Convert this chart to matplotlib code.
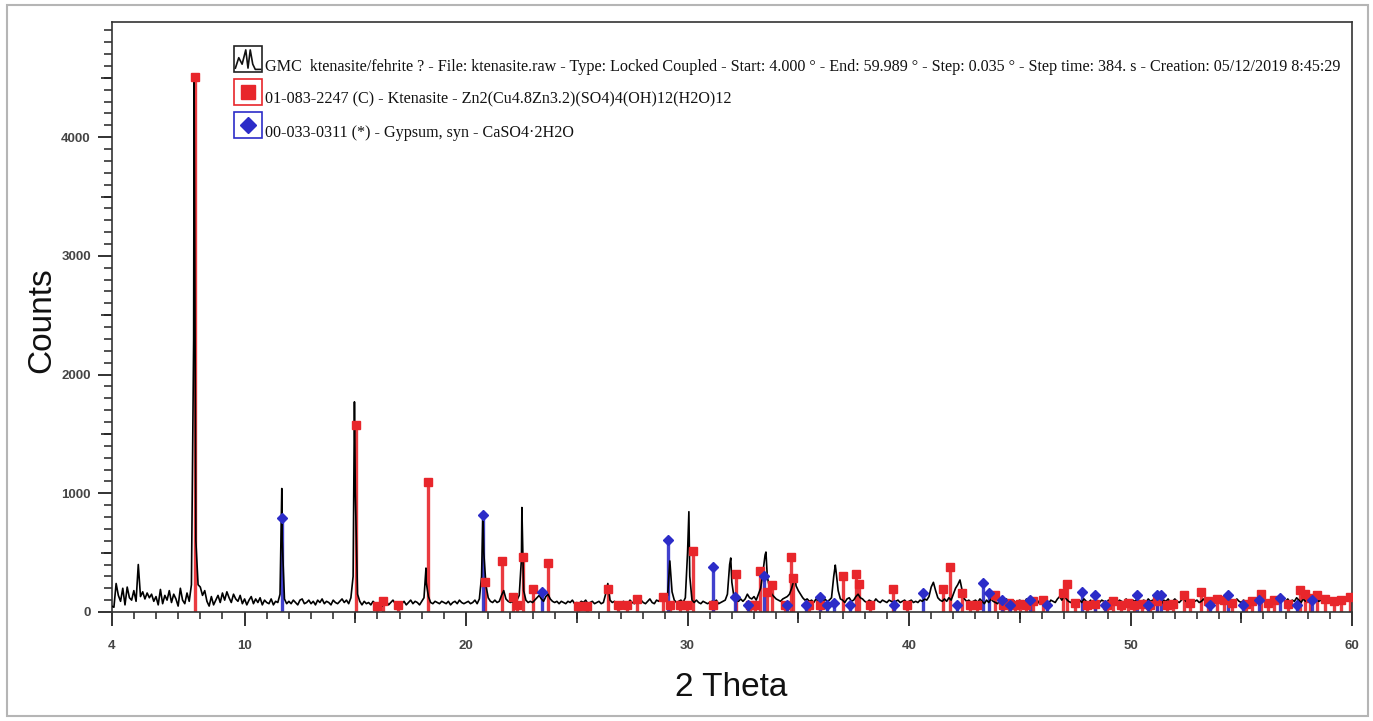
import numpy as np
import matplotlib
matplotlib.use("Agg")
import matplotlib.pyplot as plt
from matplotlib.patches import Rectangle
from matplotlib.lines import Line2D
from matplotlib.ticker import FixedLocator

# ---------------- data ----------------
# measured pattern, background read at 0.1 deg steps, rows = one degree
scan_start, scan_step = 4.0, 0.1
pattern_counts = [
    50, 40, 240, 140, 90, 200, 60, 210, 120, 100,        # 4
    180, 90, 400, 130, 170, 110, 160, 120, 150, 90,      # 5
    130, 60, 190, 70, 140, 100, 180, 80, 150, 110,       # 6
    50, 200, 100, 70, 160, 90, 230, 2300, 600, 230,      # 7
    210, 140, 180, 90, 50, 130, 60, 100, 140, 80,        # 8
    160, 100, 170, 120, 80, 150, 110, 90, 140, 70,       # 9
    110, 60, 100, 130, 70, 110, 80, 120, 60, 100,        # 10
    80, 70, 110, 60, 90, 80, 150, 600, 110, 70,          # 11
    90, 70, 100, 80, 60, 100, 110, 70, 80, 100,          # 12
    70, 90, 60, 100, 80, 110, 70, 90, 80, 60,            # 13
    100, 80, 70, 90, 110, 80, 100, 70, 120, 300,         # 14
    1000, 150, 90, 60, 90, 70, 80, 60, 90, 70,           # 15
    60, 80, 50, 70, 90, 60, 80, 100, 70, 60,             # 16
    80, 70, 90, 60, 80, 100, 70, 90, 80, 60,             # 17
    90, 120, 250, 130, 80, 70, 90, 80, 70, 90,           # 18
    80, 70, 90, 60, 80, 90, 70, 100, 80, 70,             # 19
    80, 90, 70, 80, 100, 70, 110, 300, 500, 220,         # 20
    120, 90, 80, 100, 80, 90, 140, 180, 110, 90,         # 21
    80, 90, 70, 100, 140, 450, 180, 100, 80, 90,         # 22
    80, 100, 120, 140, 110, 90, 130, 150, 110, 90,       # 23
    80, 90, 70, 90, 80, 70, 90, 80, 100, 70,             # 24
    80, 70, 90, 80, 100, 70, 80, 90, 70, 80,             # 25
    90, 70, 80, 150, 240, 100, 80, 90, 70, 80,           # 26
    70, 90, 80, 70, 100, 80, 70, 90, 80, 100,            # 27
    80, 70, 90, 110, 80, 70, 100, 90, 120, 100,          # 28
    110, 140, 430, 170, 100, 80, 90, 100, 80, 120,       # 29
    500, 300, 100, 80, 100, 80, 70, 90, 80, 70,          # 30
    80, 90, 80, 100, 70, 80, 90, 100, 150, 400,          # 31
    250, 120, 100, 90, 110, 90, 110, 150, 120, 110,      # 32
    130, 100, 150, 200, 330, 480, 300, 200, 150, 130,    # 33
    110, 100, 90, 110, 120, 130, 150, 200, 270, 220,     # 34
    180, 150, 120, 100, 110, 90, 100, 80, 110, 90,       # 35
    100, 80, 110, 90, 100, 120, 300, 350, 180, 110,      # 36
    100, 80, 110, 120, 90, 100, 130, 150, 120, 110,      # 37
    90, 80, 100, 90, 80, 110, 90, 80, 100, 90,           # 38
    80, 100, 90, 80, 90, 100, 80, 90, 100, 80,           # 39
    90, 100, 80, 90, 80, 100, 90, 110, 100, 130,         # 40
    210, 250, 180, 120, 100, 90, 110, 90, 120, 100,      # 41
    150, 200, 230, 270, 180, 110, 90, 100, 80, 90,       # 42
    100, 80, 110, 90, 70, 100, 80, 110, 90, 80,          # 43
    70, 100, 90, 80, 110, 70, 90, 100, 80, 90,           # 44
    100, 80, 70, 110, 90, 80, 100, 90, 70, 100,          # 45
    80, 110, 90, 70, 100, 90, 80, 110, 130, 100,         # 46
    140, 110, 90, 80, 100, 90, 70, 100, 80, 110,         # 47
    90, 80, 100, 70, 110, 90, 80, 100, 90, 70,           # 48
    100, 90, 70, 110, 80, 100, 90, 80, 110, 90,          # 49
    80, 100, 90, 110, 70, 90, 100, 80, 110, 90,          # 50
    100, 80, 110, 90, 70, 100, 90, 110, 80, 90,          # 51
    110, 90, 80, 100, 120, 90, 80, 100, 70, 90,          # 52
    100, 80, 90, 110, 80, 100, 90, 70, 100, 80,          # 53
    90, 110, 80, 100, 90, 70, 100, 80, 110, 90,          # 54
    80, 100, 90, 70, 110, 90, 80, 100, 90, 110,          # 55
    90, 80, 100, 90, 110, 80, 100, 90, 130, 100,         # 56
    90, 110, 80, 100, 90, 120, 100, 80, 110, 90,         # 57
    100, 120, 90, 80, 110, 90, 100, 80, 110, 90,         # 58
    80, 100, 90, 110, 80, 100, 120, 90, 110, 100,        # 59
    110,                                                 # 60
]
# peak maxima of the measured pattern
apex_theta = [7.72, 11.68, 14.96, 18.19, 20.76, 22.52, 30.06, 31.95, 33.54, 34.86, 36.67]
apex_counts = [4500, 1040, 1770, 370, 840, 880, 845, 455, 505, 285, 395]

# 01-083-2247 Ktenasite reference lines
ktenasite_theta = [7.75, 15.02, 15.97, 16.26, 16.93, 18.29, 20.86, 21.63, 22.13, 22.30,
                   22.56, 23.03, 23.72, 25.06, 25.47, 26.42, 26.87, 27.27, 27.73, 28.90,
                   29.20, 29.67, 29.98, 30.25, 31.17, 32.20, 32.83, 33.05, 33.28, 33.57,
                   33.80, 34.40, 34.68, 34.77, 35.50, 36.00, 37.00, 37.60, 37.75, 38.25,
                   39.28, 39.90, 41.53, 41.86, 42.40, 42.77, 43.07, 43.90, 44.25, 44.50,
                   44.80, 45.00, 45.30, 45.60, 46.06, 46.97, 47.14, 47.50, 48.05, 48.40,
                   48.95, 49.20, 49.55, 49.90, 50.15, 50.50, 50.90, 51.20, 51.66, 51.90,
                   52.40, 52.70, 53.16, 53.50, 53.90, 54.20, 54.60, 55.20, 55.50, 55.87,
                   56.20, 56.50, 57.10, 57.67, 57.90, 58.10, 58.40, 58.80, 59.20, 59.50,
                   59.90]
ktenasite_counts = [4510, 1575, 50, 95, 60, 1095, 253, 430, 125, 60,
                    463, 190, 413, 50, 50, 194, 60, 60, 110, 125,
                    60, 60, 60, 513, 60, 320, 60, 60, 345, 170,
                    227, 60, 463, 290, 60, 60, 305, 320, 235, 60,
                    193, 60, 193, 380, 160, 60, 60, 143, 60, 80,
                    60, 70, 60, 90, 100, 160, 235, 80, 60, 70,
                    60, 90, 60, 80, 60, 70, 60, 90, 60, 70,
                    143, 80, 168, 90, 110, 100, 80, 70, 90, 152,
                    80, 100, 70, 185, 150, 120, 143, 110, 90, 100,
                    130]

# 00-033-0311 Gypsum reference lines
gypsum_theta = [11.69, 20.78, 23.42, 29.13, 31.16, 32.15, 32.74, 33.43, 34.50, 35.36,
                36.00, 36.30, 36.60, 37.35, 39.30, 40.65, 42.17, 43.36, 43.60, 44.20,
                44.57, 45.47, 46.25, 47.80, 48.40, 48.87, 50.30, 50.77, 51.20, 51.36,
                53.60, 54.40, 55.10, 55.80, 56.76, 57.50, 58.20]
gypsum_counts = [792, 817, 170, 605, 380, 125, 60, 305, 60, 60,
                 125, 60, 75, 60, 60, 160, 60, 243, 160, 100,
                 60, 100, 60, 170, 143, 60, 143, 60, 143, 143,
                 60, 143, 60, 100, 120, 60, 100]

x_tick_values = [4, 10, 20, 30, 40, 50, 60]
y_tick_values = [0, 1000, 2000, 3000, 4000]

legend_texts = [
    "GMC  ktenasite/fehrite ? - File: ktenasite.raw - Type: Locked Coupled - Start: 4.000 \u00b0 - End: 59.989 \u00b0 - Step: 0.035 \u00b0 - Step time: 384. s - Creation: 05/12/2019 8:45:29",
    "01-083-2247 (C) - Ktenasite - Zn2(Cu4.8Zn3.2)(SO4)4(OH)12(H2O)12",
    "00-033-0311 (*) - Gypsum, syn - CaSO4\u00b72H2O",
]

# ---------------- figure ----------------
W, H = 1373, 721
RED = "#e8262b"
BLUE = "#2c2cc8"
fig = plt.figure(figsize=(W / 100, H / 100), dpi=100)
fig.patch.set_facecolor("white")


def fx(px):
    return px / W


def fy(py):
    return 1 - py / H


ax_l, ax_r, ax_t, ax_b = 111.7, 1352, 22, 612
ax = fig.add_axes([fx(ax_l), fy(ax_b), (ax_r - ax_l) / W, (ax_b - ax_t) / H])

scan_theta = np.round(scan_start + scan_step * np.arange(len(pattern_counts)), 3)
all_theta = np.concatenate([scan_theta, apex_theta])
all_counts = np.concatenate([pattern_counts, apex_counts])
order = np.argsort(all_theta, kind="stable")

ax.vlines(ktenasite_theta, 0, ktenasite_counts, color=RED, lw=2.4, alpha=0.9, zorder=2)
ax.vlines(gypsum_theta, 0, gypsum_counts, color=BLUE, lw=2.4, alpha=0.9, zorder=2)
ax.plot(all_theta[order], all_counts[order], color="black", lw=1.2, zorder=3)
ax.plot(ktenasite_theta, ktenasite_counts, "s", color=RED, ms=5.5, mec=RED, zorder=4)
ax.plot(gypsum_theta, gypsum_counts, "D", color=BLUE, ms=5.5, mec=BLUE, zorder=4)

ax.set_xlim(4, 60)
ax.set_ylim(0, 4970)

tick_color = "#444444"
ax.set_xticks(x_tick_values)
ax.set_xticklabels([str(v) for v in x_tick_values])
ax.xaxis.set_minor_locator(FixedLocator(list(range(5, 60))))
ax.set_yticks(y_tick_values)
ax.set_yticklabels([str(v) for v in y_tick_values])
ax.yaxis.set_minor_locator(FixedLocator(list(range(100, 4970, 100))))

ax.tick_params(axis="x", which="major", direction="out", length=10, width=1.3,
               color="#222222", labelsize=9.5, labelcolor=tick_color, pad=10)
ax.tick_params(axis="x", which="minor", direction="out", length=5, width=1.1, color="#222222")
ax.tick_params(axis="y", which="major", direction="out", length=10, width=1.3,
               color="#222222", labelsize=9.5, labelcolor=tick_color, pad=5)
ax.tick_params(axis="y", which="minor", direction="out", length=5.5, width=1.1, color="#222222")
for lab in ax.get_xticklabels() + ax.get_yticklabels():
    lab.set_family("Liberation Sans")
    lab.set_fontweight("bold")

# medium ticks
secx = ax.secondary_xaxis("bottom")
secx.set_xticks([15, 25, 35, 45, 55])
secx.set_xticklabels([])
secx.tick_params(direction="out", length=8, width=1.2, color="#222222")
secx.spines["bottom"].set_visible(False)
secy = ax.secondary_yaxis("left")
secy.set_yticks([500, 1500, 2500, 3500, 4500])
secy.set_yticklabels([])
secy.tick_params(direction="out", length=8, width=1.2, color="#222222")
secy.spines["left"].set_visible(False)

for s in ax.spines.values():
    s.set_color("#333333")
    s.set_linewidth(1.2)

fig.text(fx(731), fy(688), "2 Theta", ha="center", va="center", fontsize=24,
         family="Liberation Sans", color="#111111")
fig.text(fx(42), fy(320), "Counts", ha="center", va="center", rotation=90, fontsize=24,
         family="Liberation Sans", color="#111111")

# outer frame
fig.add_artist(Rectangle((fx(7), fy(716)), (1368 - 7) / W, (716 - 5) / H,
                         transform=fig.transFigure, fill=False, edgecolor="#b5b5b5", lw=1.5))

# legend
icon_cx = 248
icon_cy = [59, 92, 125]
text_cy = [67, 99, 133]
iw, ih = 28, 26
edge_cols = ["#222222", RED, BLUE]
for i in range(3):
    x0 = icon_cx - iw / 2
    y1 = icon_cy[i] + ih / 2
    fig.add_artist(Rectangle((fx(x0), fy(y1)), iw / W, ih / H, transform=fig.transFigure,
                             fill=False, edgecolor=edge_cols[i], lw=1.2))
    fig.text(fx(265), fy(text_cy[i]), legend_texts[i], ha="left", va="center",
             fontsize=11.6, family="Liberation Serif", color="#111111")

zig_u = [0.05, 0.17, 0.29, 0.42, 0.50, 0.58, 0.67, 0.76, 0.95]
zig_v = [0.15, 0.55, 0.30, 0.85, 0.15, 0.85, 0.30, 0.10, 0.10]
zx = [fx(icon_cx - iw / 2 + u * iw) for u in zig_u]
zy = [fy(icon_cy[0] + ih / 2 - v * ih) for v in zig_v]
fig.add_artist(Line2D(zx, zy, transform=fig.transFigure, color="#111111", lw=1.2))
fig.add_artist(Line2D([fx(icon_cx)], [fy(icon_cy[1])], transform=fig.transFigure,
                      marker="s", ms=10, color=RED, lw=0))
fig.add_artist(Line2D([fx(icon_cx)], [fy(icon_cy[2])], transform=fig.transFigure,
                      marker="D", ms=8, color=BLUE, lw=0))

fig.savefig("out.png", dpi=100)
